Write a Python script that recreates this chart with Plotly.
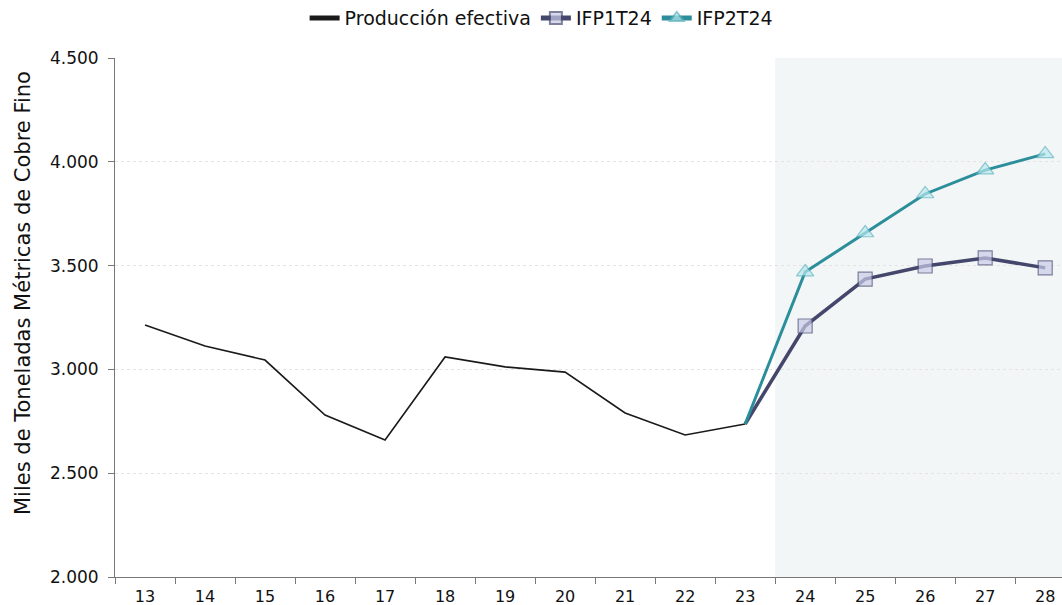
import plotly.graph_objects as go

years = ["13","14","15","16","17","18","19","20","21","22","23","24","25","26","27","28"]
prod_years = years[:11]
prod_vals = [3214, 3113, 3045, 2780, 2660, 3060, 3012, 2987, 2790, 2684, 2737]
fc_years = years[10:]
ifp1_vals = [2737, 3209, 3435, 3498, 3537, 3489]
ifp2_vals = [2737, 3469, 3657, 3845, 3960, 4038]
y_ticks = [2000, 2500, 3000, 3500, 4000, 4500]

FONT = "DejaVu Sans"
fig = go.Figure()

fig.add_trace(go.Scatter(x=prod_years, y=prod_vals, mode="lines", name="Producción efectiva",
                         line=dict(color="#1a1a1a", width=1.6)))
fig.add_trace(go.Scatter(x=fc_years, y=ifp1_vals, mode="lines+markers", name="IFP1T24",
                         line=dict(color="#45466b", width=3.5),
                         marker=dict(symbol="square", size=[0, 14, 14, 14, 14, 14], color="#c9cbe8",
                                     line=dict(color="#4a4b72", width=1.2))))
fig.add_trace(go.Scatter(x=fc_years, y=ifp2_vals, mode="lines+markers", name="IFP2T24",
                         line=dict(color="#2b8e9a", width=3),
                         marker=dict(symbol="triangle-up", size=[0, 15, 15, 15, 15, 15], color="#b8e8ee",
                                     line=dict(color="#5db3be", width=1.2))))

fig.add_shape(type="rect", xref="x", yref="paper", x0=10.5, x1=15.6, y0=0, y1=1,
              fillcolor="#f2f6f7", line=dict(width=0), layer="below")

fig.add_annotation(text="Miles de Toneladas Métricas de Cobre Fino",
                   xref="paper", yref="paper", x=-92/947, y=(577 - 293) / 519,
                   xanchor="center", yanchor="middle", textangle=-90, showarrow=False,
                   font=dict(size=21, color="#111"))

fig.update_layout(
    width=1062, height=605,
    margin=dict(l=115, r=0, t=58, b=28, autoexpand=False),
    paper_bgcolor="white", plot_bgcolor="white",
    font=dict(family=FONT, size=15, color="#222"),
    separators=",.",
    showlegend=True,
    legend=dict(orientation="h", xref="container", yref="container",
                x=0.51, xanchor="center", y=0.97, yanchor="middle",
                font=dict(size=19, color="#111"), itemsizing="constant"),
)
fig.update_xaxes(type="category", range=[-0.5, 15.28], showgrid=False,
                 showline=True, linecolor="#777", linewidth=1,
                 ticks="outside", tickson="boundaries", ticklen=6, tickcolor="#777",
                 ticklabelstandoff=5,
                 tickfont=dict(size=16, color="#111"))
fig.update_yaxes(range=[2000, 4500], tickvals=y_ticks, tickformat=",.0f",
                 showgrid=True, gridcolor="#e4e4e4", griddash="dot", gridwidth=1,
                 showline=True, linecolor="#777", linewidth=1,
                 ticks="outside", ticklen=6, tickcolor="#777", zeroline=False,
                 ticklabelstandoff=6,
                 tickfont=dict(size=17, color="#111"))

fig.write_html("out.html")
